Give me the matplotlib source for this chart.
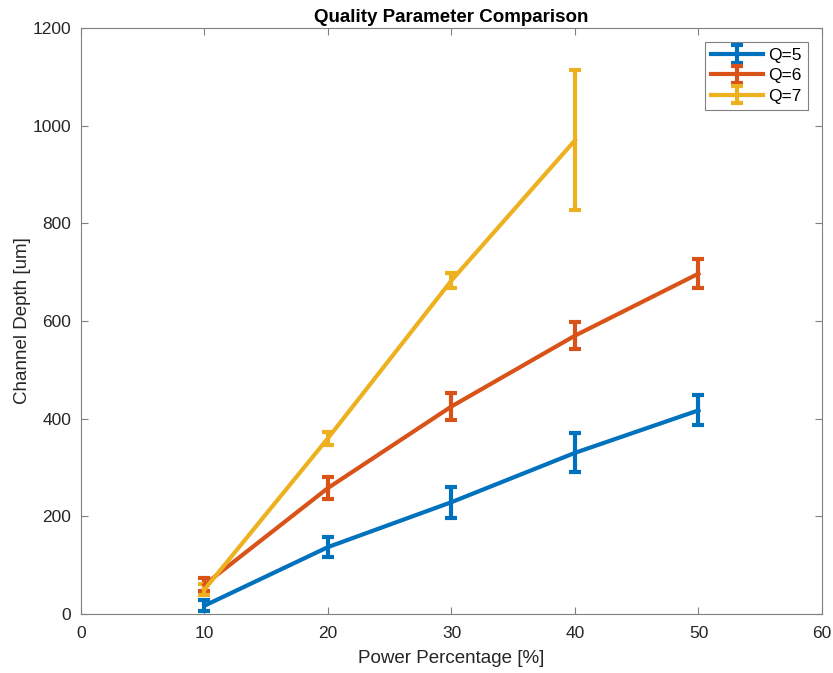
import matplotlib.pyplot as plt

power = [10, 20, 30, 40, 50]
power_q7 = [10, 20, 30, 40]

depth_q5 = [17, 137, 229, 330, 417]
err_q5 = [11, 20, 32, 40, 31]
depth_q6 = [60, 258, 425, 570, 697]
err_q6 = [13, 22, 28, 27, 29]
depth_q7 = [50, 360, 683, 970]
err_q7 = [12, 13, 15, 143]

labels = ["Q=5", "Q=6", "Q=7"]
colors = ["#0072BD", "#D95319", "#EDB120"]

plt.rcParams['font.family'] = ['Liberation Sans', 'DejaVu Sans']

fig = plt.figure(figsize=(8.33, 6.73), dpi=100)
ax = fig.add_axes([0.0972, 0.0877, 0.8896, 0.8707])

series = [(power, depth_q5, err_q5), (power, depth_q6, err_q6), (power_q7, depth_q7, err_q7)]
for (x, y, e), lab, c in zip(series, labels, colors):
    ax.errorbar(x, y, yerr=e, color=c, linewidth=3, elinewidth=3,
                capsize=4.5, capthick=3, label=lab)

ax.set_xlim(0, 60)
ax.set_ylim(0, 1200)
ax.set_xticks(range(0, 61, 10))
ax.set_yticks(range(0, 1201, 200))
ax.tick_params(direction='in', top=True, right=True, labelsize=12.5,
               labelcolor='#262626', color='#808080', length=5, width=0.8)
ax.tick_params(axis='x', pad=9)
ax.tick_params(axis='y', pad=7)
for s in ax.spines.values():
    s.set_color('#808080')
    s.set_linewidth(0.8)

ax.set_xlabel("Power Percentage [%]", fontsize=13.5, color='#262626', labelpad=6)
ax.set_ylabel("Channel Depth [um]", fontsize=13.5, color='#262626', labelpad=1)
ax.set_title("Quality Parameter Comparison", fontsize=13.5, fontweight='bold', pad=4)

leg = ax.legend(loc='upper right', fontsize=12.5, fancybox=False, framealpha=1,
                edgecolor='#808080', handlelength=3.0, borderaxespad=0.8,
                borderpad=0.35, labelspacing=0.3, handletextpad=0.3)
leg.get_frame().set_linewidth(0.8)

fig.savefig("out.png", dpi=100)
